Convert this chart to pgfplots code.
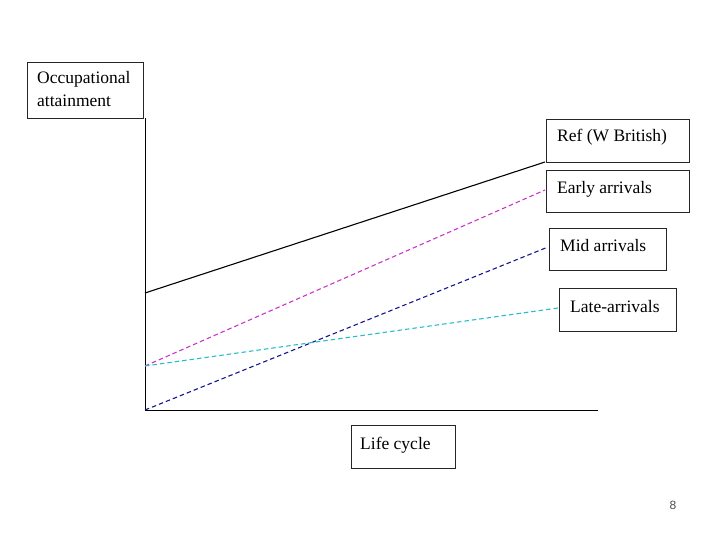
\documentclass[border=0pt]{standalone}
\usepackage{pgfplots}
\pgfplotsset{compat=1.18}
\usepackage{fontspec}
\setmainfont{Liberation Serif}
\setsansfont{Liberation Sans}
\definecolor{magline}{RGB}{204,51,204}
\definecolor{navyline}{RGB}{20,20,140}
\definecolor{cyanline}{RGB}{40,190,200}
\begin{document}
\begin{tikzpicture}
\begin{axis}[
  scale only axis,
  width=453pt, height=292pt,
  xmin=145, xmax=598, ymin=118, ymax=410,
  y dir=reverse,
  axis lines=left,
  axis line style={-, black, line width=0.9pt},
  xtick=\empty, ytick=\empty,
  clip=false,
]
\path (axis cs:0,0) rectangle (axis cs:720,540);
% series
\addplot[black, solid, line width=1.1pt] coordinates {(145,293) (545,162)};
\addplot[magline, line width=1.1pt, dash pattern=on 4.5pt off 3pt] coordinates {(145,366) (545,190)};
\addplot[navyline, line width=1.1pt, dash pattern=on 4.5pt off 3pt] coordinates {(145,410) (548,247)};
\addplot[cyanline, line width=1.1pt, dash pattern=on 4.5pt off 3pt] coordinates {(145,366) (558,308)};
% boxes
\draw[black!85, line width=0.9pt] (axis cs:27,62) rectangle (axis cs:143,118);
\draw[black!85, line width=0.9pt] (axis cs:546,119) rectangle (axis cs:689,162);
\draw[black!85, line width=0.9pt] (axis cs:546,170) rectangle (axis cs:689,212);
\draw[black!85, line width=0.9pt] (axis cs:549,228) rectangle (axis cs:666,270);
\draw[black!85, line width=0.9pt] (axis cs:559,288) rectangle (axis cs:676,331);
\draw[black!85, line width=0.9pt] (axis cs:351,425) rectangle (axis cs:455,468);
% labels
\node[anchor=west, align=left, inner sep=0pt, font=\fontsize{17.5}{23}\selectfont] at (axis cs:37,89) {Occupational\\attainment};
\node[anchor=west, inner sep=0pt, font=\fontsize{17.5}{20}\selectfont] at (axis cs:557,137) {Ref (W British)};
\node[anchor=west, inner sep=0pt, font=\fontsize{17.5}{20}\selectfont] at (axis cs:557,189) {Early arrivals};
\node[anchor=west, inner sep=0pt, font=\fontsize{17.5}{20}\selectfont] at (axis cs:560,246) {Mid arrivals};
\node[anchor=west, inner sep=0pt, font=\fontsize{17.5}{20}\selectfont] at (axis cs:570,307) {Late-arrivals};
\node[anchor=west, inner sep=0pt, font=\fontsize{17.5}{20}\selectfont] at (axis cs:360,445) {Life cycle};
\node[font=\sffamily\fontsize{12}{14}\selectfont, text=black!70] at (axis cs:673,505) {8};
\end{axis}
\end{tikzpicture}
\end{document}
